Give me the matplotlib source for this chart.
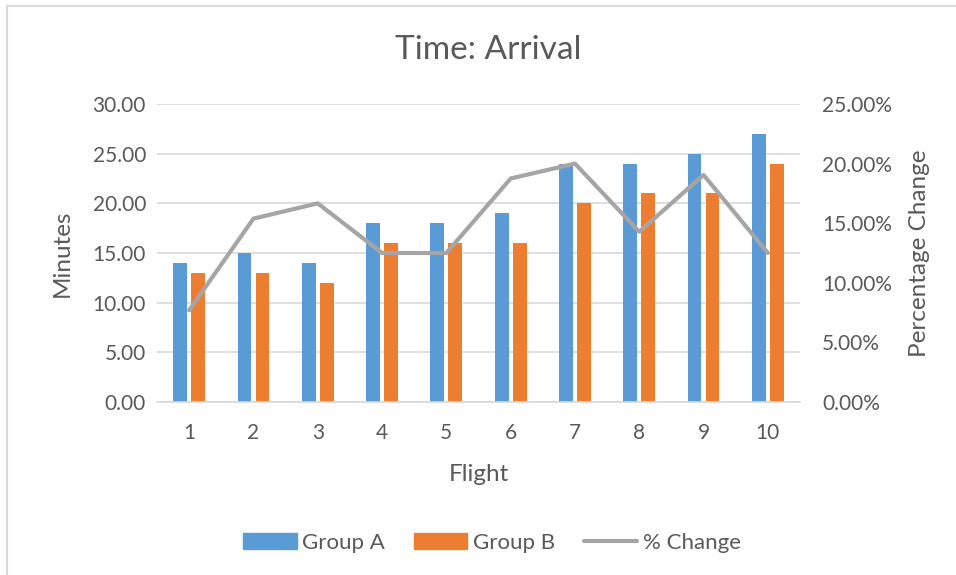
import matplotlib
matplotlib.use("Agg")
import matplotlib.pyplot as plt
import numpy as np
from matplotlib.lines import Line2D
from matplotlib.ticker import FuncFormatter

plt.rcParams['font.family'] = ['Lato', 'DejaVu Sans']

flights = [1, 2, 3, 4, 5, 6, 7, 8, 9, 10]
group_a = [14, 15, 14, 18, 18, 19, 24, 24, 25, 27]
group_b = [13, 13, 12, 16, 16, 16, 20, 21, 21, 24]
pct_change = [(a - b) / b for a, b in zip(group_a, group_b)]

txt = '#595959'
grid = '#D9D9D9'

fig = plt.figure(figsize=(9.56, 5.75), dpi=100)
ax = fig.add_axes([157 / 956, 1 - 402 / 575, 643 / 956, 298 / 575])
ax2 = ax.twinx()

x = np.arange(len(flights))
w = 0.215
ax.bar(x - 0.14, group_a, w, color='#5B9BD5', zorder=2)
ax.bar(x + 0.14, group_b, w, color='#ED7D31', zorder=2)
ax2.plot(x, pct_change, color='#A5A5A5', lw=3, solid_capstyle='round', zorder=3)

ax.set_xlim(-0.5, len(flights) - 0.5)
ax.set_ylim(0, 30)
ax.set_yticks(np.arange(0, 31, 5))
ax.yaxis.set_major_formatter(FuncFormatter(lambda v, p: f'{v:.2f}'))
ax2.set_ylim(0, 0.25)
ax2.set_yticks(np.arange(0, 0.26, 0.05))
ax2.yaxis.set_major_formatter(FuncFormatter(lambda v, p: f'{v * 100:.2f}%'))

ax.set_xticks(x)
ax.set_xticklabels([str(f) for f in flights])
ax.grid(axis='y', color=grid, lw=1.2, zorder=0)
for a in (ax, ax2):
    for s in a.spines.values():
        s.set_visible(False)
    a.tick_params(length=0, labelsize=15, labelcolor=txt)
ax.spines['bottom'].set_visible(True)
ax.spines['bottom'].set_color(grid)
ax.spines['bottom'].set_linewidth(1.2)
ax.tick_params(axis='x', pad=15)
ax.tick_params(axis='y', pad=8)
ax2.tick_params(axis='y', pad=16)

ax.set_xlabel('Flight', fontsize=17.5, color=txt, labelpad=15)
ax.set_ylabel('Minutes', fontsize=17.5, color=txt, labelpad=14)
ax2.set_ylabel('Percentage Change', fontsize=17.5, color=txt, labelpad=12)
fig.text(488 / 956, 1 - 50 / 575, 'Time: Arrival', fontsize=24, color=txt,
         ha='center', va='center')

handles = [
    plt.Rectangle((0, 0), 1, 1, color='#5B9BD5'),
    plt.Rectangle((0, 0), 1, 1, color='#ED7D31'),
    Line2D([0], [0], color='#A5A5A5', lw=3, solid_capstyle='round'),
]
leg = fig.legend(handles, ['Group A', 'Group B', '% Change'], loc='center',
                 bbox_to_anchor=(492 / 956, 1 - 543 / 575), ncol=3, frameon=False,
                 fontsize=16, handlelength=2.4, handleheight=0.7, handletextpad=0.25,
                 columnspacing=1.3)
for t in leg.get_texts():
    t.set_color(txt)

# outer chart frame, top and left edges
fig.add_artist(Line2D([7 / 956, 7 / 956], [0, 1 - 6 / 575], color=grid, lw=1.5))
fig.add_artist(Line2D([7 / 956, 1], [1 - 6 / 575, 1 - 6 / 575], color=grid, lw=1.5))

fig.savefig('out.png', dpi=100, facecolor='white')
